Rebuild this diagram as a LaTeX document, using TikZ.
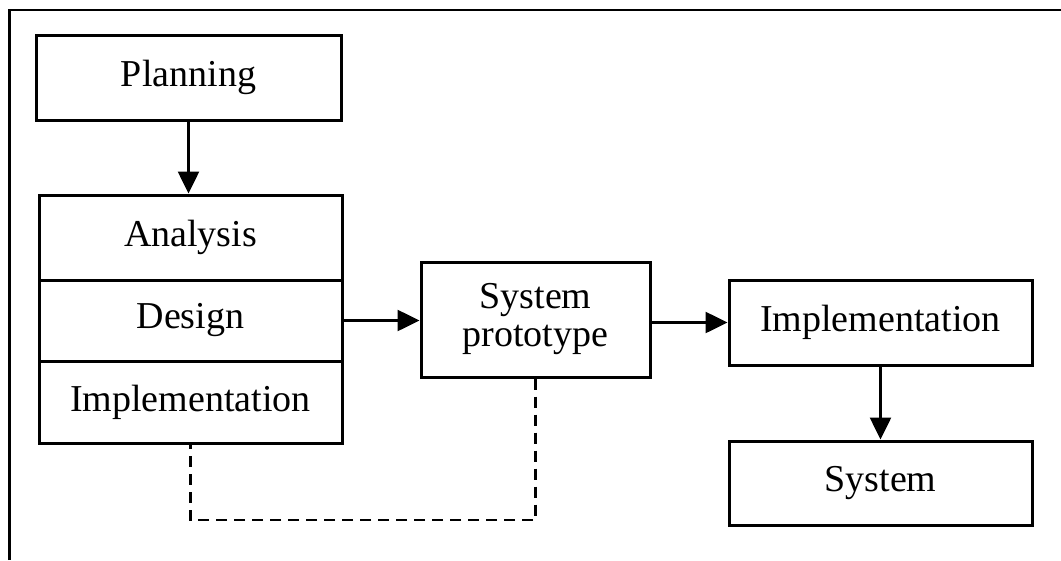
\documentclass[tikz,border=0pt]{standalone}
\usepackage{fontspec}
\setmainfont{Liberation Serif}
\usetikzlibrary{arrows.meta}
\begin{document}
\begin{tikzpicture}[x=1pt,y=-1pt,
  box/.style={draw, line width=3pt, rectangle, inner sep=0pt, align=center,
    font=\fontsize{38}{38}\selectfont},
  conn/.style={line width=2.6pt, -{Triangle[length=22pt,width=21pt]}},
  fb/.style={line width=2.6pt, dash pattern=on 11pt off 7pt}]
\useasboundingbox (0,0) rectangle (1061,560);
\draw[line width=2.4pt] (9.5,560) -- (9.5,10) -- (1061,10);
\node[box, minimum width=305pt, minimum height=85pt] (plan) at (188.5,77.5) {Planning};
\node[box, minimum width=303pt, minimum height=85pt] (ana) at (190.5,237.5) {Analysis};
\node[box, minimum width=303pt, minimum height=81pt] (des) at (190.5,320.5) {Design};
\node[box, minimum width=303pt, minimum height=82pt] (impl) at (190.5,402) {Implementation};
\node[box, minimum width=229pt, minimum height=115pt] (proto) at (535.5,319.5) {System\\prototype};
\node[box, minimum width=303pt, minimum height=85pt] (implr) at (880.5,322.5) {Implementation};
\node[box, minimum width=303pt, minimum height=84pt] (sys) at (880.5,483) {System};
\coordinate (fbc) at (535.5,520);
\draw[conn] (plan.south) -- (plan.south |- ana.north);
\draw[conn] (des.east) -- (proto.west |- des.east);
\draw[conn] (proto.east |- implr.west) -- (implr.west);
\draw[conn] (implr.south) -- (sys.north);
\draw[fb] (proto.south) -- (fbc) -| (impl.south);
\end{tikzpicture}
\end{document}
